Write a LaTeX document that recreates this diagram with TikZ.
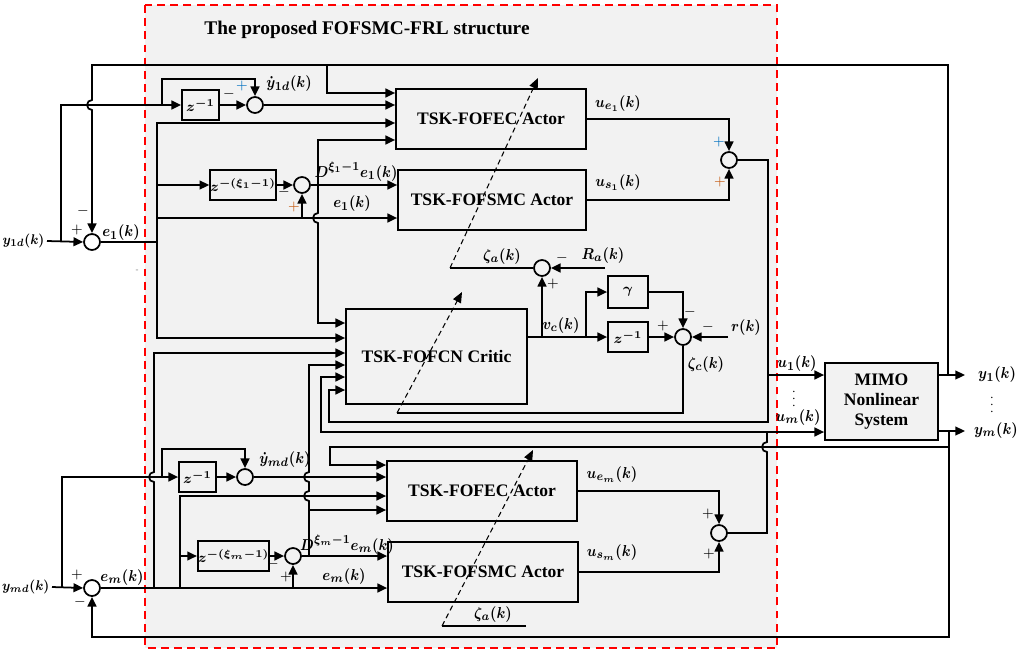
\documentclass[tikz,border=0pt]{standalone}
\usepackage{amsmath}
\usepackage{graphicx}
\usepackage{fontspec}
\setmainfont{Liberation Serif}
\usetikzlibrary{arrows.meta}
\definecolor{plusblue}{RGB}{0,112,192}
\definecolor{plusorange}{RGB}{197,90,17}
\newcommand{\lbl}[1]{\scalebox{0.88}[1]{$#1$}}

\begin{document}
\begin{tikzpicture}[x=0.02cm, y=-0.02cm, line width=1pt,
    arr/.style={-{Triangle[length=5.5pt,width=5pt]}},
    arr2/.style={{Triangle[length=5.5pt,width=5pt]}-{Triangle[length=5.5pt,width=5pt]}},
    tune/.style={dash pattern=on 3pt off 2pt, line width=0.6pt, -{Triangle[length=6pt,width=5pt]}},
    block/.style={draw, fill=black!5, inner sep=0pt, font=\fontsize{10}{11.5}\selectfont\bfseries},
    zbox/.style={draw, fill=black!5, inner sep=0pt, minimum width=0.74cm, minimum height=0.6cm, font=\fontsize{8.5}{10}\selectfont\boldmath},
    sumc/.style={draw, circle, minimum size=0.32cm, inner sep=0pt},
    lab/.style={inner sep=1pt, font=\fontsize{9.5}{10}\selectfont\boldmath},
    sgn/.style={inner sep=0pt, font=\fontsize{8}{9}\selectfont}
]
\useasboundingbox (0,0) rectangle (1023,652);

% --- Rahmen der Struktur ---
\draw[red, fill=black!5, line width=1.2pt, dash pattern=on 4.5pt off 3pt] (145,5) rectangle (777,648);
\node[font=\fontsize{11}{12}\selectfont\bfseries] (title) at (367,30) {The proposed FOFSMC-FRL structure};

% --- Bloecke ---
\node[zbox] (zd1) at (200.5,105) {$z^{-1}$};
\node[zbox, minimum width=1.24cm] (zf1) at (243,185) {$z^{-(\xi_1-1)}$};
\node[block, minimum width=3.8cm, minimum height=1.2cm] (act1) at (491,119) {TSK-FOFEC Actor};
\node[block, minimum width=3.76cm, minimum height=1.2cm] (smc1) at (492,200) {TSK-FOFSMC Actor};
\node[block, minimum width=3.62cm, minimum height=1.9cm] (crit) at (436.5,356.5) {TSK-FOFCN Critic};
\node[zbox, minimum width=0.8cm, minimum height=0.64cm] (gam) at (628,292) {$\gamma$};
\node[zbox, minimum width=0.8cm] (zc) at (628,337) {$z^{-1}$};
\node[block, align=center, minimum width=2.26cm, minimum height=1.54cm] (mimo) at (881.5,401.5) {MIMO\\Nonlinear\\System};
\node[zbox] (zdm) at (197.5,477) {$z^{-1}$};
\node[zbox, minimum width=1.26cm] (zfm) at (233.5,556) {$z^{-(\xi_m-1)}$};
\node[block, minimum width=3.8cm, minimum height=1.2cm] (actm) at (482,491) {TSK-FOFEC Actor};
\node[block, minimum width=3.8cm, minimum height=1.2cm] (smcm) at (483,572) {TSK-FOFSMC Actor};

% --- Summierer ---
\node[sumc] (se1) at (92,242) {};
\node[sumc] (sd1) at (255,105) {};
\node[sumc] (sf1) at (302,185) {};
\node[sumc] (su1) at (729,160) {};
\node[sumc] (sa) at (542,268) {};
\node[sumc] (sc) at (683,337) {};
\node[sumc] (sem) at (92,588) {};
\node[sumc] (sdm) at (245,477) {};
\node[sumc] (sfm) at (293,556) {};
\node[sumc] (sm) at (719,533) {};

% --- Hilfspunkte ---
\coordinate (b1) at (61,242);
\coordinate (b2) at (162,105);
\coordinate (b2u) at (162,79);
\coordinate (j1) at (948,375);
\coordinate (tl) at (92,65);
\coordinate (j2) at (327,65);
\coordinate (k1) at (327,93);
\coordinate (sp1t) at (157,123);
\coordinate (sp1b) at (157,338);
\coordinate (e1r) at (157,218);
\coordinate (d1t) at (318,140);
\coordinate (d1b) at (318,323);
\coordinate (o1b) at (768,422);
\coordinate (u1j) at (768,375);
\coordinate (c6) at (329,422);
\coordinate (c6u) at (329,390);
\coordinate (y1e) at (965,375);
\coordinate (bm1) at (62,588);
\coordinate (bm2) at (162,477);
\coordinate (bm2u) at (162,449);
\coordinate (spm) at (154,588);
\coordinate (spmt) at (154,353);
\coordinate (em2) at (180,588);
\coordinate (em2t) at (180,496);
\coordinate (dmj) at (309,556);
\coordinate (dmt) at (309,510);
\coordinate (dmc) at (309,365);
\coordinate (ymo) at (949,431);
\coordinate (ymb) at (949,637);
\coordinate (bl) at (92,637);
\coordinate (ymk) at (949,447);
\coordinate (k2) at (330,447);
\coordinate (k2d) at (330,465);
\coordinate (yme) at (965,431);
\coordinate (omt) at (767,432);
\coordinate (c5) at (321,432);
\coordinate (c5u) at (321,377);
\coordinate (vg) at (586,337);
\coordinate (rin) at (728,337);
\coordinate (rain) at (605,268);
\coordinate (za) at (450,268);
\coordinate (zat) at (538,78);
\coordinate (zcl) at (397,413);
\coordinate (zct) at (462,292);
\coordinate (zb1) at (442,626);
\coordinate (zb2) at (526,626);
\coordinate (zbt) at (533,450);

% --- Kanal 1 ---
\node[lab, anchor=east, font=\fontsize{8.5}{10}\selectfont\boldmath] (ly1d) at (47,241) {\lbl{y_{1d}(k)}};
\draw[arr] (ly1d.east) -- (se1.west);
\draw[arr] (b1) |- (zd1.west);
\draw[arr] (b2) -- (b2u) -| (sd1.north);
\draw[arr] (zd1.east) -- (sd1.west);
\draw[arr] (sd1.east) -- (sd1.east -| act1.west);
\draw[arr] (j1) |- (tl) -- (92,100) arc[start angle=270, end angle=90, radius=5] -- (se1.north); % Rueckfuehrung y1
\draw[arr] (j2) -- (k1) -- (k1 -| act1.west);
\draw (se1.east) -- (se1.east -| sp1t);
\draw[arr2] (sp1t -| act1.west) -- (sp1t) -- (sp1b) -- (sp1b -| crit.west);
\draw[arr] (zf1.west -| sp1t) -- (zf1.west);
\draw[arr] (e1r) -- (e1r -| smc1.west);
\draw[arr] (e1r -| sf1) -- (sf1.south);
\draw[arr] (zf1.east) -- (sf1.west);
\draw[arr] (sf1.east) -- (sf1.east -| smc1.west);
\draw[arr2] (d1t -| act1.west) -- (d1t) -- (318,213) arc[start angle=270, end angle=90, radius=5] -- (d1b) -- (d1b -| crit.west);
\draw[arr] (act1.east) -| (su1.north);
\draw[arr] (smc1.east) -| (su1.south);
\draw[arr] (su1.east) -| (o1b) -- (c6) -- (c6u) -- (c6u -| crit.west);
\draw[arr] (u1j) -- (u1j -| mimo.west);
\draw[arr] (u1j -| mimo.east) -- (y1e);

% --- Kanal m ---
\node[lab, anchor=east, font=\fontsize{8.5}{10}\selectfont\boldmath] (lymd) at (52,587) {\lbl{y_{md}(k)}};
\draw[arr] (lymd.east) -- (sem.west);
\draw[arr] (bm1) |- (zdm.west);
\draw[arr] (bm2) -- (bm2u) -| (sdm.north);
\draw[arr] (zdm.east) -- (sdm.west);
\draw[arr] (sdm.east) -- (sdm.east -| actm.west);
\draw[arr] (sem.east) -- (sem.east -| smcm.west);
\draw[arr] (spm) -- (154,482) arc[start angle=90, end angle=270, radius=5] -- (spmt) -- (spmt -| crit.west);
\draw[arr] (em2) -- (em2t) -- (em2t -| actm.west);
\draw[arr] (zfm.west -| em2) -- (zfm.west);
\draw[arr] (zfm.east) -- (sfm.west);
\draw[arr] (sem.east -| sfm) -- (sfm.south);
\draw[arr] (sfm.east) -- (sfm.east -| smcm.west);
\draw[arr] (dmj) -- (dmt) -- (309,501) arc[start angle=90, end angle=270, radius=5] -- (309,482) arc[start angle=90, end angle=270, radius=5] -- (dmc) -- (dmc -| crit.west);
\draw[arr] (dmt) -- (dmt -| actm.west);
\draw[arr] (ymo) -- (ymb) -- (bl) -- (sem.south); % Rueckfuehrung ym
\draw[arr] (ymk) -- (k2) -- (k2d) -- (k2d -| actm.west);
\draw[arr] (ymo -| mimo.east) -- (yme);
\draw[arr] (actm.east) -| (sm.north);
\draw[arr] (smcm.east) -| (sm.south);
\draw (sm.east) -| (767,452) arc[start angle=90, end angle=270, radius=5] -- (omt);
\draw[arr] (omt) -- (omt -| mimo.west);
\draw[arr] (omt) -- (c5) -- (c5u) -- (c5u -| crit.west);

% --- Critic ---
\draw[arr] (crit.east |- zc) -- (zc.west);
\draw[arr] (zc -| sa) -- (sa.south);
\draw[arr] (vg) |- (gam.west);
\draw[arr] (gam.east) -| (sc.north);
\draw[arr] (zc.east) -- (sc.west);
\draw[arr] (rin) -- (sc.east);
\draw[arr] (rain) -- (sa.east);
\draw (sa.west) -- (za);
\draw[tune] (za) -- (zat);
\draw (sc.south) |- (zcl);
\draw[tune] (zcl) -- (zct);
\draw (zb2) -- (zb1);
\draw[tune] (zb1) -- (zbt);

% --- Beschriftungen ---
\node[lab] (lyd1) at (289,84) {\lbl{\dot{y}_{1d}(k)}};
\node[lab] (le1a) at (121,233) {\lbl{e_1(k)}};
\node[lab] (lD1) at (356,172) {\lbl{D^{\xi_1-1}e_1(k)}};
\node[lab] (le1b) at (352,204) {\lbl{e_1(k)}};
\node[lab] (lue1) at (618,104) {\lbl{u_{e_1}(k)}};
\node[lab] (lus1) at (618,183) {\lbl{u_{s_1}(k)}};
\node[lab] (lza) at (502,257) {\lbl{\zeta_a(k)}};
\node[lab] (lRa) at (603,256) {\lbl{R_a(k)}};
\node[lab] (lvc) at (561,326) {\lbl{v_c(k)}};
\node[lab] (lr) at (746,328) {\lbl{r(k)}};
\node[lab] (lzc) at (706,365) {\lbl{\zeta_c(k)}};
\node[lab] (lu1) at (797,364) {\lbl{u_1(k)}};
\node[lab] (lum) at (798,418) {\lbl{u_m(k)}};
\node[lab] (ly1) at (997,375) {\lbl{y_1(k)}};
\node[lab] (lym) at (996,431) {\lbl{y_m(k)}};
\node[lab, inner sep=0pt, font=\fontsize{7}{8}\selectfont\boldmath] (ldu) at (794,394) {$\vdots$};
\node[lab, inner sep=0pt, font=\fontsize{7}{8}\selectfont\boldmath] (ldy) at (992,400) {$\vdots$};
\node[lab] (lydm) at (285,460) {\lbl{\dot{y}_{md}(k)}};
\node[lab] (lema) at (122,578) {\lbl{e_m(k)}};
\node[lab] (lDm) at (347,545) {\lbl{D^{\xi_m-1}e_m(k)}};
\node[lab] (lemb) at (344,577) {\lbl{e_m(k)}};
\node[lab] (luem) at (612,475) {\lbl{u_{e_m}(k)}};
\node[lab] (lusm) at (612,553) {\lbl{u_{s_m}(k)}};
\node[lab] (lzb) at (493,615) {\lbl{\zeta_a(k)}};

% --- Vorzeichen ---
\foreach \x/\y/\s/\col [count=\i] in {229/94/-/black, 242/86/+/plusblue, 83/211/-/black, 77/230/+/black,
    284/192/-/black, 294/207/+/plusorange, 719/142/+/plusblue, 720/182/+/plusorange,
    562/258/-/black, 553/284/+/black, 690/312/-/black, 663/326/+/black, 708/327/-/black,
    77/575/+/black, 80/602/-/black, 273/564/-/black, 286/577/+/black, 708/514/+/black, 709/554/+/black}
    \node[sgn, text=\col] (sg\i) at (\x,\y) {$\s$};
\node[sgn, text=gray, font=\tiny] (sgx) at (137,271) {-};

\end{tikzpicture}
\end{document}
